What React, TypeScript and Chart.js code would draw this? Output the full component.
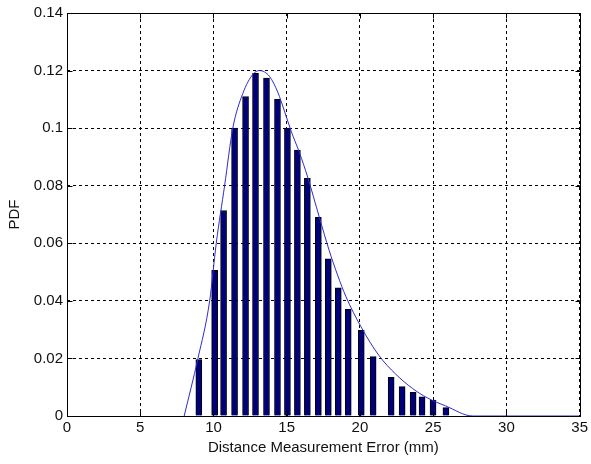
import React, { useEffect, useRef } from "react";
import { Chart, registerables } from "chart.js";

Chart.register(...registerables);

// Histogram bin centres (mm) and their estimated probability density
const barX = [9.0, 10.08, 10.69, 11.44, 12.19, 12.87, 13.62, 14.37, 15.05, 15.73, 16.41, 17.16, 17.84, 18.52, 19.2, 20.09, 20.9, 22.13, 22.88, 23.63, 24.24, 24.99, 25.87];
const barPdf = [0.0196, 0.0506, 0.0714, 0.1, 0.111, 0.119, 0.1174, 0.11, 0.1, 0.0924, 0.0826, 0.069, 0.0546, 0.0445, 0.0371, 0.0298, 0.0206, 0.0134, 0.0102, 0.0082, 0.0067, 0.0055, 0.0029];

// Fitted density curve
const curveX = [8.0, 8.94, 9.74, 10.19, 10.76, 11.32, 12.0, 12.69, 13.14, 13.82, 14.39, 14.84, 15.3, 15.87, 16.43, 17.23, 17.9, 18.47, 19.04, 20.07, 21.3, 22.45, 23.58, 24.6, 25.85, 27.7, 35];
const curvePdf = [0, 0.02, 0.04, 0.06, 0.08, 0.1, 0.112, 0.1187, 0.12, 0.118, 0.1125, 0.106, 0.099, 0.0915, 0.083, 0.069, 0.0575, 0.049, 0.0415, 0.031, 0.021, 0.0145, 0.0096, 0.0063, 0.0035, 0, 0];

// Axis ticks
const xTicks = [0, 5, 10, 15, 20, 25, 30, 35];
const yTicks = [0, 0.02, 0.04, 0.06, 0.08, 0.1, 0.12, 0.14];
const yTickLabels = ["0", "0.02", "0.04", "0.06", "0.08", "0.1", "0.12", "0.14"];

const FONT = "'Liberation Sans', Arial, sans-serif";
const TEXT = "#111";

// Solid frame around the plot with short inward tick marks
const framePlugin = {
  id: "frame",
  afterDatasetsDraw(chart: any) {
    const { ctx, chartArea: a, scales } = chart;
    const L = Math.round(a.left) + 0.5;
    const R = Math.round(a.right) + 0.5;
    const T = Math.round(a.top) + 0.5;
    const B = Math.round(a.bottom) + 0.5;
    const tl = 5;
    ctx.save();
    ctx.strokeStyle = "#000";
    ctx.lineWidth = 1;
    ctx.setLineDash([]);
    ctx.beginPath();
    xTicks.forEach((v) => {
      const px = Math.round(scales.x.getPixelForValue(v)) + 0.5;
      ctx.moveTo(px, B);
      ctx.lineTo(px, B - tl);
      ctx.moveTo(px, T);
      ctx.lineTo(px, T + tl);
    });
    yTicks.forEach((v) => {
      const py = Math.round(scales.y.getPixelForValue(v)) + 0.5;
      ctx.moveTo(L, py);
      ctx.lineTo(L + tl, py);
      ctx.moveTo(R, py);
      ctx.lineTo(R - tl, py);
    });
    ctx.stroke();
    ctx.strokeRect(L, T, R - L, B - T);
    ctx.restore();
  },
};

export default function App() {
  const ref = useRef<HTMLCanvasElement | null>(null);

  useEffect(() => {
    if (!ref.current) return;
    const chart = new Chart(ref.current, {
      type: "bar",
      data: {
        datasets: [
          {
            type: "line",
            label: "Fit",
            data: curveX.map((x, i) => ({ x, y: curvePdf[i] })),
            borderColor: "rgb(45,45,205)",
            borderWidth: 1,
            pointRadius: 0,
            fill: false,
            cubicInterpolationMode: "monotone",
            order: 0,
          } as any,
          {
            type: "bar",
            label: "Histogram",
            data: barX.map((x, i) => ({ x, y: barPdf[i] })),
            backgroundColor: "#00007a",
            borderColor: "#000",
            borderWidth: 1,
            barThickness: 6,
            order: 1,
          } as any,
        ],
      },
      options: {
        responsive: false,
        animation: false,
        events: [],
        layout: { padding: { left: 0, top: 12, right: 10, bottom: 0 } },
        plugins: { legend: { display: false }, tooltip: { enabled: false } },
        scales: {
          x: {
            type: "linear",
            min: 0,
            max: 35,
            offset: false,
            afterBuildTicks: (s: any) => {
              s.ticks = xTicks.map((value) => ({ value }));
            },
            afterFit: (s: any) => {
              s.height = 48;
            },
            ticks: {
              color: TEXT,
              font: { family: FONT, size: 15 },
              padding: 3,
              maxRotation: 0,
              autoSkip: false,
            },
            grid: { color: "#000", lineWidth: 1, tickLength: 0, offset: false },
            border: { display: false, dash: [3, 3] },
            title: {
              display: true,
              text: "Distance Measurement Error (mm)",
              color: TEXT,
              font: { family: FONT, size: 15 },
              padding: { top: 0, bottom: 7 },
            },
          },
          y: {
            type: "linear",
            min: 0,
            max: 0.14,
            afterBuildTicks: (s: any) => {
              s.ticks = yTicks.map((value) => ({ value }));
            },
            afterFit: (s: any) => {
              s.width = 67;
            },
            ticks: {
              color: TEXT,
              font: { family: FONT, size: 15 },
              padding: 4,
              autoSkip: false,
              callback: (_v: any, i: number) => yTickLabels[i],
            },
            grid: { color: "#000", lineWidth: 1, tickLength: 0 },
            border: { display: false, dash: [3, 3] },
            title: {
              display: true,
              text: "PDF",
              color: TEXT,
              font: { family: FONT, size: 15 },
              padding: { top: 6, bottom: 0 },
            },
          },
        },
      },
      plugins: [framePlugin],
    });
    return () => chart.destroy();
  }, []);

  return (
    <div style={{ position: "absolute", left: 0, top: 0, width: 591, height: 464, background: "#fff" }}>
      <canvas ref={ref} width={591} height={464} style={{ display: "block" }} />
    </div>
  );
}
